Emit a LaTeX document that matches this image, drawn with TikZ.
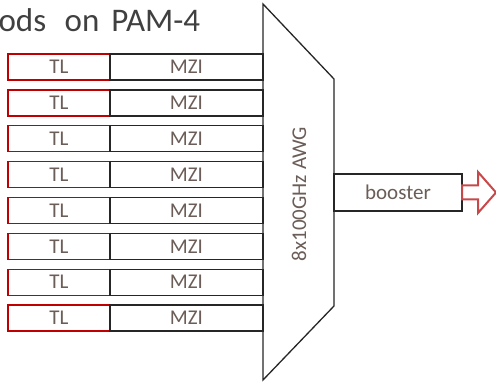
\documentclass[tikz,border=0pt]{standalone}
\usepackage{fontspec}
\setmainfont{Carlito}
\definecolor{edge}{HTML}{262626}
\definecolor{tlred}{HTML}{C00000}
\definecolor{arrowred}{HTML}{C8484A}
\definecolor{labelgray}{HTML}{6B5D57}
\definecolor{titlegray}{HTML}{404040}
\begin{document}
\begin{tikzpicture}[x=1pt,y=-1pt,
  boxlabel/.style={text=labelgray, font=\fontsize{21}{23}\selectfont},
  blockbox/.style={fill=white, line width=1.3pt, inner sep=0pt, outer sep=0pt, boxlabel},
  tlbox/.style={blockbox, draw=tlred, minimum width=102pt, minimum height=26pt},
  mzibox/.style={blockbox, draw=edge, minimum width=153pt, minimum height=26pt},
  awgshape/.style={draw=edge, fill=white, line width=1.3pt, line join=miter},
  outarrow/.style={draw=arrowred, fill=white, line width=2pt, line join=miter}]
\useasboundingbox (0,0) rectangle (496,382);

% heading
\node[anchor=base west, inner sep=0pt, text=titlegray,
      font=\fontsize{33}{40}\selectfont] (title) at (-1.6,31.7)
      {ods\hspace{11pt} on\hspace{4.5pt} PAM-4};

% arrayed waveguide grating
\draw[awgshape] (263,4) -- (334,79) -- (334,306) -- (263,380) -- cycle;
\node[boxlabel, rotate=90] (awglabel) at (299,194) {8x100GHz AWG};

% eight transmitter lanes: laser + modulator
\foreach \i in {1,...,8}{
  \pgfmathsetmacro{\yc}{67+35.86*(\i-1)}
  \node[tlbox] (tl\i) at (59,\yc) {TL};
  \node[mzibox] (mzi\i) at (186.5,\yc) {MZI};
}

% booster amplifier and output
\node[blockbox, draw=edge, minimum width=128pt, minimum height=37pt] (booster) at (398,192.5) {booster};
\coordinate (out) at (booster.east);
\draw[outarrow] (out) ++(0,-7) -- ++(16,0) -- ++(0,-13.5) -- ++(18,20.5)
  -- ++(-18,20.5) -- ++(0,-13.5) -- ++(-16,0) -- cycle;
\end{tikzpicture}
\end{document}
